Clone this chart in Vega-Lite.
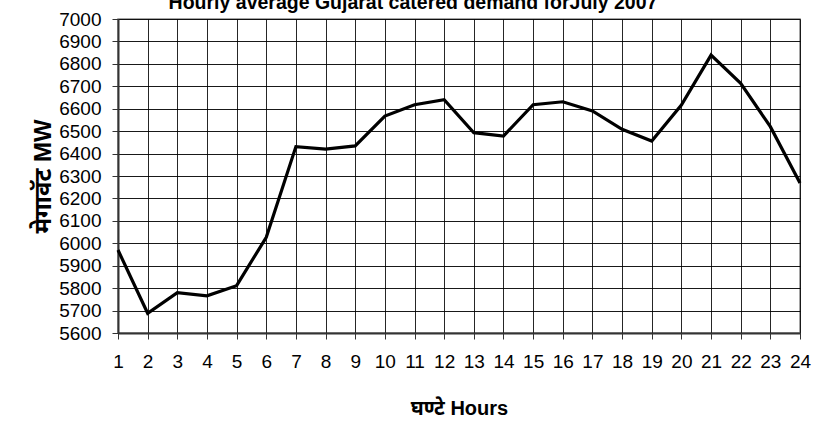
{
  "$schema": "https://vega.github.io/schema/vega-lite/v6.json",
  "width": 682,
  "height": 314,
  "autosize": {"type": "none"},
  "padding": {"left": 118, "top": 19, "right": 14, "bottom": 95},
  "background": "white",
  "title": {
    "text": "Hourly average Gujarat catered demand forJuly 2007",
    "font": "Liberation Sans, Arial, sans-serif",
    "fontSize": 19.5,
    "fontWeight": "bold",
    "color": "#000000",
    "anchor": "middle",
    "baseline": "alphabetic",
    "offset": 0,
    "dy": 18,
    "dx": -46
  },
  "config": {
    "view": {"stroke": "#888888", "strokeWidth": 1.5},
    "font": "Liberation Sans, Arial, Noto Sans Devanagari, Noto Sans, sans-serif"
  },
  "data": {
    "values": [
      {"hour": 1, "mw": 5970},
      {"hour": 2, "mw": 5688},
      {"hour": 3, "mw": 5780},
      {"hour": 4, "mw": 5766},
      {"hour": 5, "mw": 5811},
      {"hour": 6, "mw": 6027},
      {"hour": 7, "mw": 6431},
      {"hour": 8, "mw": 6420},
      {"hour": 9, "mw": 6434},
      {"hour": 10, "mw": 6567},
      {"hour": 11, "mw": 6618},
      {"hour": 12, "mw": 6640},
      {"hour": 13, "mw": 6493},
      {"hour": 14, "mw": 6478},
      {"hour": 15, "mw": 6618},
      {"hour": 16, "mw": 6631},
      {"hour": 17, "mw": 6590},
      {"hour": 18, "mw": 6508},
      {"hour": 19, "mw": 6456},
      {"hour": 20, "mw": 6616},
      {"hour": 21, "mw": 6839},
      {"hour": 22, "mw": 6713},
      {"hour": 23, "mw": 6520},
      {"hour": 24, "mw": 6269}
    ]
  },
  "mark": {"type": "line", "color": "#000000", "strokeWidth": 3.2, "strokeJoin": "miter"},
  "encoding": {
    "x": {
      "field": "hour",
      "type": "quantitative",
      "scale": {"domain": [1, 24], "nice": false, "zero": false},
      "axis": {
        "values": [1,2,3,4,5,6,7,8,9,10,11,12,13,14,15,16,17,18,19,20,21,22,23,24],
        "title": "घण्टे Hours",
        "titleFontSize": 20,
        "titleFontWeight": "bold",
        "titleColor": "#000000",
        "titlePadding": 27,
        "labelFontSize": 19,
        "labelColor": "#000000",
        "labelFont": "Liberation Sans, Arial, sans-serif",
        "labelPadding": 13,
        "labelFlush": false,
        "labelOverlap": false,
        "grid": true,
        "gridColor": "#000000",
        "gridWidth": 1,
        "gridOpacity": 0.85,
        "domainColor": "#333333",
        "domainWidth": 2,
        "tickColor": "#333333",
        "tickSize": 6,
        "tickWidth": 1
      }
    },
    "y": {
      "field": "mw",
      "type": "quantitative",
      "scale": {"domain": [5600, 7000], "nice": false, "zero": false},
      "axis": {
        "values": [5600,5700,5800,5900,6000,6100,6200,6300,6400,6500,6600,6700,6800,6900,7000],
        "format": "d",
        "title": "मेगावॅट MW",
        "titleFontSize": 24,
        "titleFontWeight": "bold",
        "titleColor": "#000000",
        "titlePadding": 3,
        "labelFontSize": 19,
        "labelColor": "#000000",
        "labelFont": "Liberation Sans, Arial, sans-serif",
        "labelPadding": 11,
        "labelFlush": false,
        "labelOverlap": false,
        "grid": true,
        "gridColor": "#000000",
        "gridWidth": 1,
        "gridOpacity": 0.9,
        "domainColor": "#333333",
        "domainWidth": 2,
        "tickColor": "#333333",
        "tickSize": 6,
        "tickWidth": 1
      }
    }
  }
}
